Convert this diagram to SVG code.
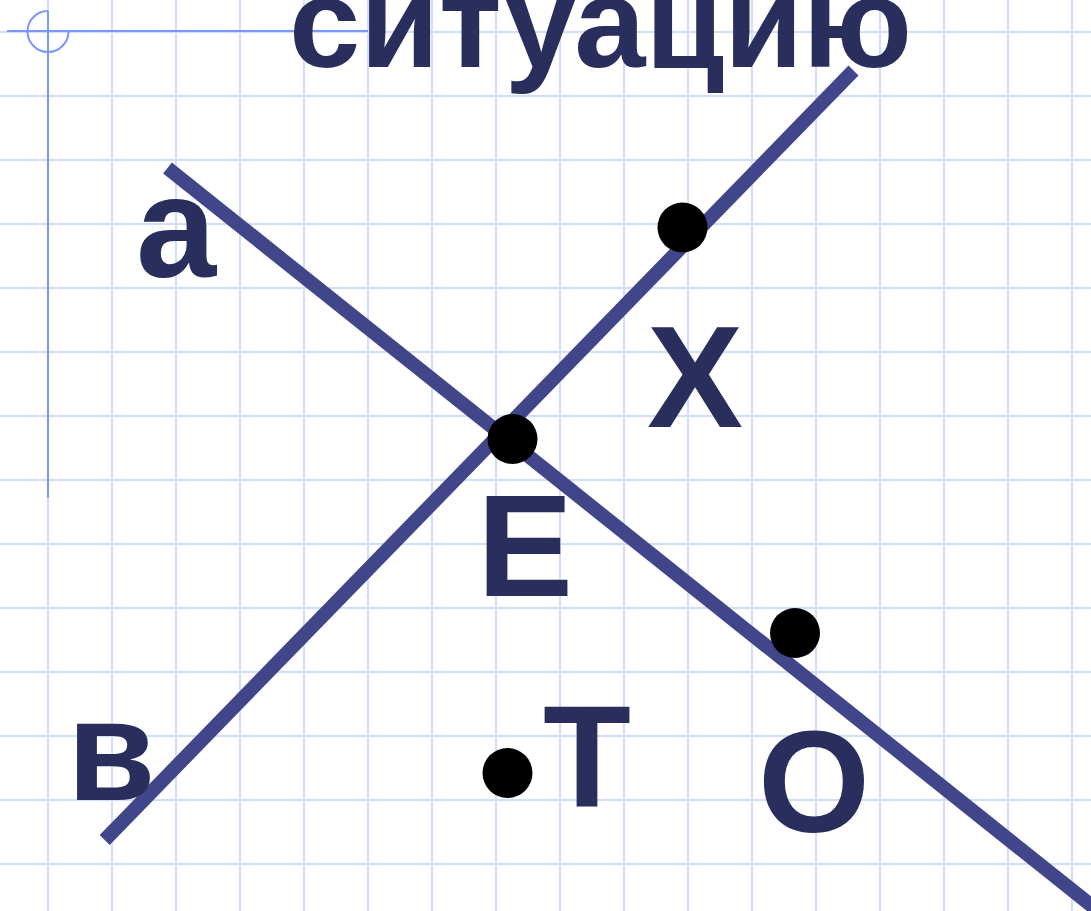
<svg xmlns="http://www.w3.org/2000/svg" width="1091" height="911" viewBox="0 0 1091 911">
  <style>
    .grid line { stroke: #d2ddfc; stroke-width: 2; }
    .margin { stroke: #7a98ff; stroke-width: 2; fill: none; }
    .ln { stroke: #414589; stroke-width: 14; stroke-linecap: butt; }
    .dot { fill: #000; }
    .lbl { font-family: "Liberation Sans", Arial, sans-serif; font-weight: bold; font-size: 144px; fill: #2a2e5c; }
    .title { font-family: "Liberation Sans", Arial, sans-serif; font-weight: bold; font-size: 128px; fill: #2a2e5c; }
  </style>
  <rect width="1091" height="911" fill="#fff"/>
  <g id="grid" class="grid">
    <line x1="48" y1="0" x2="48" y2="911"/>
    <line x1="112" y1="0" x2="112" y2="911"/>
    <line x1="176" y1="0" x2="176" y2="911"/>
    <line x1="240" y1="0" x2="240" y2="911"/>
    <line x1="304" y1="0" x2="304" y2="911"/>
    <line x1="368" y1="0" x2="368" y2="911"/>
    <line x1="432" y1="0" x2="432" y2="911"/>
    <line x1="496" y1="0" x2="496" y2="911"/>
    <line x1="560" y1="0" x2="560" y2="911"/>
    <line x1="624" y1="0" x2="624" y2="911"/>
    <line x1="688" y1="0" x2="688" y2="911"/>
    <line x1="752" y1="0" x2="752" y2="911"/>
    <line x1="816" y1="0" x2="816" y2="911"/>
    <line x1="880" y1="0" x2="880" y2="911"/>
    <line x1="944" y1="0" x2="944" y2="911"/>
    <line x1="1008" y1="0" x2="1008" y2="911"/>
    <line x1="1072" y1="0" x2="1072" y2="911"/>
    <line x1="0" y1="32" x2="1091" y2="32"/>
    <line x1="0" y1="96" x2="1091" y2="96"/>
    <line x1="0" y1="160" x2="1091" y2="160"/>
    <line x1="0" y1="224" x2="1091" y2="224"/>
    <line x1="0" y1="288" x2="1091" y2="288"/>
    <line x1="0" y1="352" x2="1091" y2="352"/>
    <line x1="0" y1="416" x2="1091" y2="416"/>
    <line x1="0" y1="480" x2="1091" y2="480"/>
    <line x1="0" y1="544" x2="1091" y2="544"/>
    <line x1="0" y1="608" x2="1091" y2="608"/>
    <line x1="0" y1="672" x2="1091" y2="672"/>
    <line x1="0" y1="736" x2="1091" y2="736"/>
    <line x1="0" y1="800" x2="1091" y2="800"/>
    <line x1="0" y1="864" x2="1091" y2="864"/>
  </g>
  <g id="margin">
    <line class="margin" x1="7" y1="31" x2="368" y2="31"/>
    <line class="margin" x1="48" y1="11" x2="48" y2="498"/>
    <path class="margin" d="M48 11 A20.5 20.5 0 1 0 68.5 31.5"/>
  </g>
  <g id="title">
    <text class="title" x="289" y="67">ситуацию</text>
  </g>
  <g id="connectors">
    <line id="line-a" class="ln" x1="167.5" y1="168" x2="1097" y2="910"/>
    <line id="line-b" class="ln" x1="104.7" y1="840" x2="853.5" y2="70.5"/>
  </g>
  <g id="node-a"><text class="lbl" x="136" y="277">а</text></g>
  <g id="node-b"><text class="lbl" x="67" y="800">в</text></g>
  <g id="node-X"><circle class="dot" cx="682.5" cy="227.5" r="25"/><text class="lbl" x="647" y="427">Х</text></g>
  <g id="node-E"><circle class="dot" cx="512.5" cy="439" r="25"/><text class="lbl" x="477" y="596">Е</text></g>
  <g id="node-O"><circle class="dot" cx="795" cy="633" r="25"/><text class="lbl" x="758" y="832">О</text></g>
  <g id="node-T"><circle class="dot" cx="507.5" cy="773" r="25"/><text class="lbl" x="543" y="807">Т</text></g>
</svg>
